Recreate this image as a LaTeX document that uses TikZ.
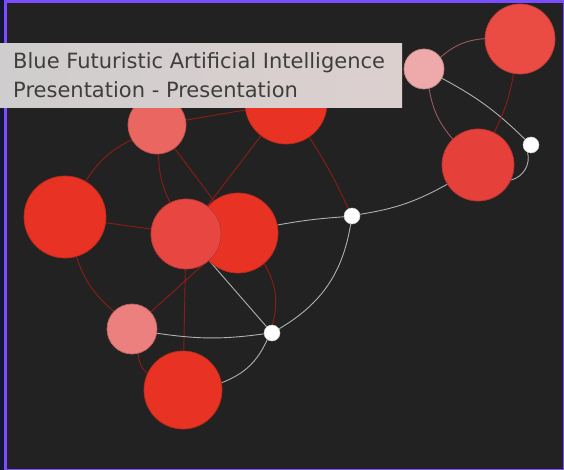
\documentclass[tikz,border=0pt]{standalone}
\usepackage{fontspec}
\newfontfamily\tipfont{DejaVu Sans}
\usetikzlibrary{backgrounds}
\definecolor{bg}{HTML}{222222}
\definecolor{frame}{HTML}{7B4DFF}
\definecolor{navy}{HTML}{101634}
\definecolor{redA}{HTML}{E83324}
\definecolor{redB}{HTML}{EA6660}
\definecolor{redE}{HTML}{E84641}
\definecolor{pinkF}{HTML}{EC807E}
\definecolor{pinkJ}{HTML}{EEAAAA}
\definecolor{redK}{HTML}{EA4B43}
\definecolor{redL}{HTML}{E5413A}
\definecolor{edgered}{HTML}{8E1C16}
\definecolor{edgepink}{HTML}{9A5A5A}
\definecolor{edgegray}{HTML}{B0B0B0}
\definecolor{tipL}{HTML}{CFCDCD}
\definecolor{tipR}{HTML}{DCD0CF}
\definecolor{tiptext}{HTML}{3E3E3E}
\tikzset{
  ball/.style={circle, inner sep=0pt, draw=#1!80!black, fill=#1, line width=0.7pt},
  dot/.style={circle, inner sep=0pt, minimum size=16pt, fill=white, draw=white!80!black, line width=0.5pt},
  redline/.style={draw=edgered, line width=0.9pt},
  pinkline/.style={draw=edgepink, line width=0.9pt},
  grayline/.style={draw=edgegray, line width=0.9pt},
}
\begin{document}
\begin{tikzpicture}[x=1pt,y=1pt]
\useasboundingbox (0,0) rectangle (564,-470);
% nodes
\node[ball=redA, minimum size=82pt] (A) at (65,-217) {};
\node[ball=redB, minimum size=58pt] (B) at (157,-125) {};
\node[ball=redA, minimum size=82pt] (C) at (286,-103) {};
\node[ball=redA, minimum size=80pt] (D) at (238,-233) {};
\node[ball=redE, minimum size=70pt] (E) at (186,-234) {};
\node[ball=pinkF, minimum size=50pt] (F) at (132,-329) {};
\node[ball=redA, minimum size=78pt] (G) at (183,-390) {};
\node[dot] (H) at (272,-333) {};
\node[dot] (I) at (352,-216) {};
\node[ball=pinkJ, minimum size=40pt] (J) at (424,-69) {};
\node[ball=redK, minimum size=70pt] (K) at (520,-39) {};
\node[ball=redL, minimum size=72pt] (L) at (478,-165) {};
\node[dot] (M) at (531,-145) {};
\begin{scope}[on background layer]
\fill[bg] (0,0) rectangle (564,-470);
\fill[navy] (0,0) rectangle (4,-470);
\draw[redline] (A) to[bend left=15] (B);
\draw[redline] (A) -- (E);
\draw[redline] (A) to[bend right=15] (F);
\draw[redline] (B) -- (C);
\draw[redline] (B) to[bend right=12] (E);
\draw[redline] (B) -- (D);
\draw[redline] (C) -- (E);
\draw[redline] (C) -- (J);
\draw[redline] (C) to[bend left=4] (I);
\draw[grayline] (D) to[bend left=3] (I);
\draw[grayline] (E) -- (H);
\draw[redline] (D) to[bend left=22] (H);
\draw[redline] (E) -- (G);
\draw[redline] (F) -- (D);
\draw[grayline] (F) to[bend right=8] (H);
\draw[redline] (F) to[bend right=25] (G);
\draw[grayline] (G) to[bend right=22] (H);
\draw[grayline] (H) to[bend right=25] (I);
\draw[grayline] (I) to[bend right=10] (L);
\draw[grayline] (L) to[bend right=45] (M);
\draw[grayline] (J) to[bend left=8] (M);
\draw[pinkline] (J) to[bend right=15] (L);
\draw[pinkline] (J) to[bend left=18] (K);
\draw[redline] (K) to[bend left=8] (L);
\end{scope}
% frame
\fill[frame] (4,0) rectangle (7,-470);
\fill[frame] (4,0) rectangle (564,-3);
\fill[frame] (562.5,0) rectangle (564,-470);
\fill[frame] (4,-468.5) rectangle (564,-470);
% tooltip
\shade[left color=tipL, right color=tipR] (0,-44) rectangle (402,-108);
\node[anchor=base west, inner sep=0pt, text=tiptext, font=\tipfont\fontsize{21}{24}\selectfont] (t1) at (13,-69) {Blue Futuristic Artificial Intelligence};
\node[anchor=base west, inner sep=0pt, text=tiptext, font=\tipfont\fontsize{21}{24}\selectfont] (t2) at (13,-97.5) {Presentation - Presentation};
\end{tikzpicture}
\end{document}
